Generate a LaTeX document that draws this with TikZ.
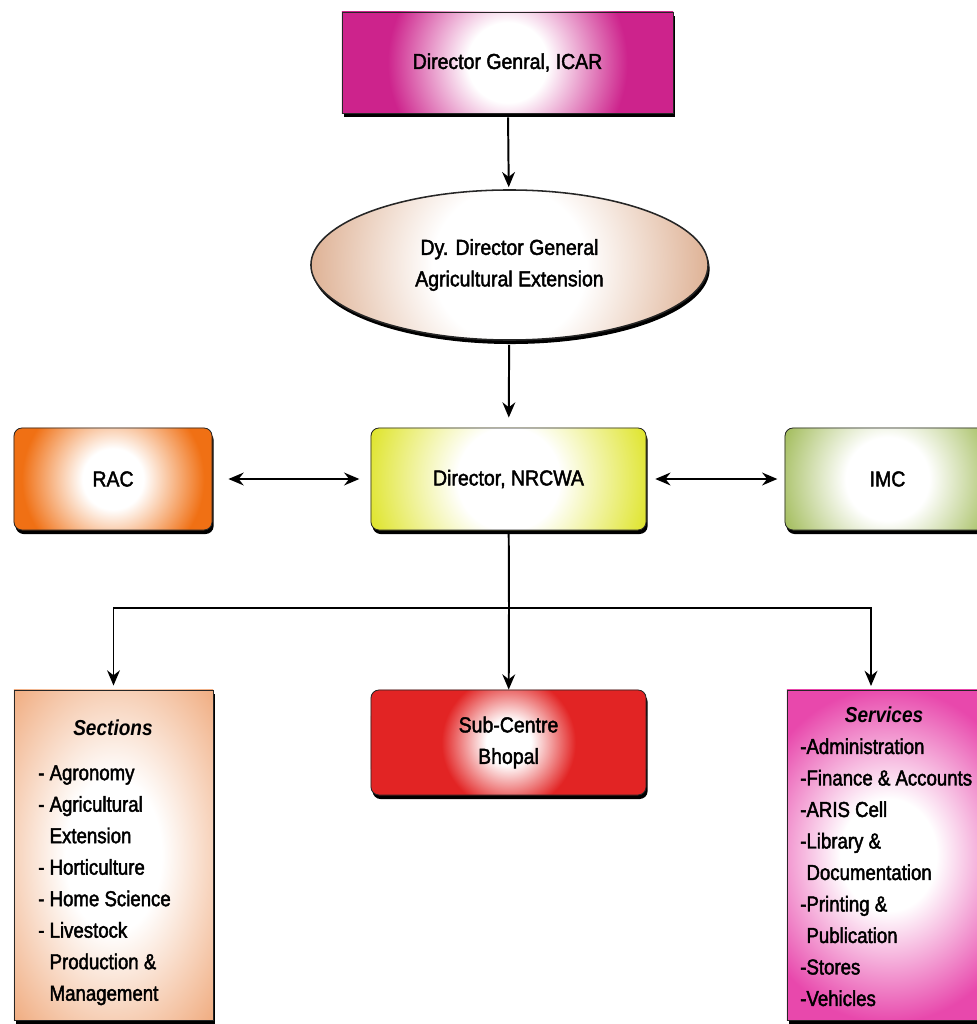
\documentclass[tikz,border=0pt]{standalone}
\usepackage{fontspec}
\setmainfont{Liberation Sans}[FakeStretch=0.88]
\newfontfamily\orgfam{Liberation Sans}[FakeStretch=0.9, FakeBold=2]
\newfontfamily\listfam{Liberation Sans}[FakeStretch=0.86, FakeBold=2]
\usetikzlibrary{arrows.meta,shadows,shapes.geometric}
\colorlet{glowcol}{white}
\pgfdeclareradialshading[glowcol]{glow}{\pgfpointorigin}{%
  color(0bp)=(white); color(4bp)=(white); color(12bp)=(glowcol); color(50bp)=(glowcol)}
\definecolor{dgpink}{RGB}{205,35,140}
\definecolor{ddgpeach}{RGB}{214,158,122}
\definecolor{racorange}{RGB}{240,112,20}
\definecolor{diryellow}{RGB}{220,226,25}
\definecolor{imcgreen}{RGB}{148,178,66}
\definecolor{sectpeach}{RGB}{240,172,128}
\definecolor{subred}{RGB}{226,36,36}
\definecolor{servpink}{RGB}{232,72,172}
\newcommand{\orgfont}{\orgfam\fontsize{15.4}{22.4}\selectfont}
\newcommand{\listfont}{\listfam\fontsize{15.4}{22.4}\selectfont}
\tikzset{
  orgbox/.style={rectangle, draw=black!85, line width=0.6pt, inner sep=0pt,
                 align=center, font=\orgfont,
                 drop shadow={shadow xshift=0.04cm, shadow yshift=-0.1cm,
                              fill=black, opacity=1}},
  orground/.style={orgbox, rounded corners=0.2cm},
  glowfill/.style n args={3}{fill=#1, path picture={\colorlet{glowcol}{#1}
      \shade[shading=glow] (path picture bounding box.center)
        ellipse [x radius=#2, y radius=#3];}},
  titletext/.style={font=\fontsize{15.4}{22.4}\selectfont\bfseries\itshape, inner sep=0pt},
  listtext/.style={font=\listfont, align=left, inner sep=0pt, anchor=north west},
  link/.style={draw, line width=1.4pt},
  arr/.style={link, -{Stealth[length=0.38cm, width=0.32cm]}},
  dblarr/.style={link, {Stealth[length=0.38cm, width=0.32cm]}-{Stealth[length=0.38cm, width=0.32cm]}}
}

\begin{document}
\begin{tikzpicture}[x=0.025cm, y=-0.025cm]
  \useasboundingbox (0,0) rectangle (977,1024);
  % top of the chart
  \node[orgbox, minimum width=8.275cm, minimum height=2.525cm,
        glowfill={dgpink}{6.25cm}{6.25cm}] (dg) at (507.5, 62.5) {Director Genral, ICAR};
  \node[orgbox, ellipse, line width=1.1pt, minimum width=9.925cm, minimum height=3.75cm,
        glowfill={ddgpeach}{12cm}{12cm}] (ddg) at (509.5, 265)
    {Dy. Director General\\Agricultural Extension};
  % the middle row
  \node[orground, minimum width=6.875cm, minimum height=2.55cm,
        glowfill={diryellow}{8cm}{8cm}] (dir) at (508.5, 479) {Director, NRCWA};
  \node[orground, minimum width=4.95cm, minimum height=2.55cm,
        glowfill={racorange}{4.75cm}{4.75cm}] (rac) at (113, 479) {RAC};
  \node[orground, minimum width=5.125cm, minimum height=2.55cm,
        glowfill={imcgreen}{6.5cm}{6.5cm}] (imc) at (887.5, 479) {IMC};
  % the bottom row
  \node[orground, minimum width=6.875cm, minimum height=2.625cm,
        glowfill={subred}{3.5cm}{3.5cm}] (subc) at (508.5, 742.5) {Sub-Centre\\Bhopal};
  \node[orgbox, minimum width=4.975cm, minimum height=8.25cm,
        glowfill={sectpeach}{7.5cm}{12cm}] (sect) at (113.5, 855) {};
  \node[orgbox, minimum width=5.075cm, minimum height=8.25cm,
        glowfill={servpink}{7.5cm}{8.75cm}] (serv) at (888.5, 855) {};
  \node[titletext] (secthead) at (113, 728) {Sections};
  \node[listtext] (sectlist) at (38, 765)
    {- Agronomy\\- Agricultural\\\hphantom{- }Extension\\- Horticulture\\
     - Home Science\\- Livestock\\\hphantom{- }Production \&\\\hphantom{- }Management};
  \node[titletext] (servhead) at (884, 715) {Services};
  \node[listtext] (servlist) at (800, 738)
    {-Administration\\-Finance \& Accounts\\-ARIS Cell\\-Library \&\\
     \hphantom{-}Documentation\\-Printing \&\\\hphantom{-}Publication\\-Stores\\-Vehicles};
  % connectors
  \coordinate (bus) at (509, 608);
  \coordinate (servtop) at (871, 690);
  \draw[arr, shorten <=0.1cm, shorten >=0.05cm] (dg) -- (ddg);
  \draw[arr, shorten <=0.1cm, shorten >=0.25cm] (ddg) -- (dir);
  \draw[dblarr, shorten <=0.4cm, shorten >=0.28cm] (rac) -- (dir);
  \draw[dblarr, shorten <=0.22cm, shorten >=0.18cm] (dir) -- (imc);
  \draw[link, shorten <=0.08cm] (dir) -- (bus);
  \draw[arr] (bus) -- (subc);
  \draw[arr, shorten >=0.1cm] (bus) -| (sect);
  \draw[arr, shorten >=0.1cm] (bus) -| (servtop);
\end{tikzpicture}
\end{document}
